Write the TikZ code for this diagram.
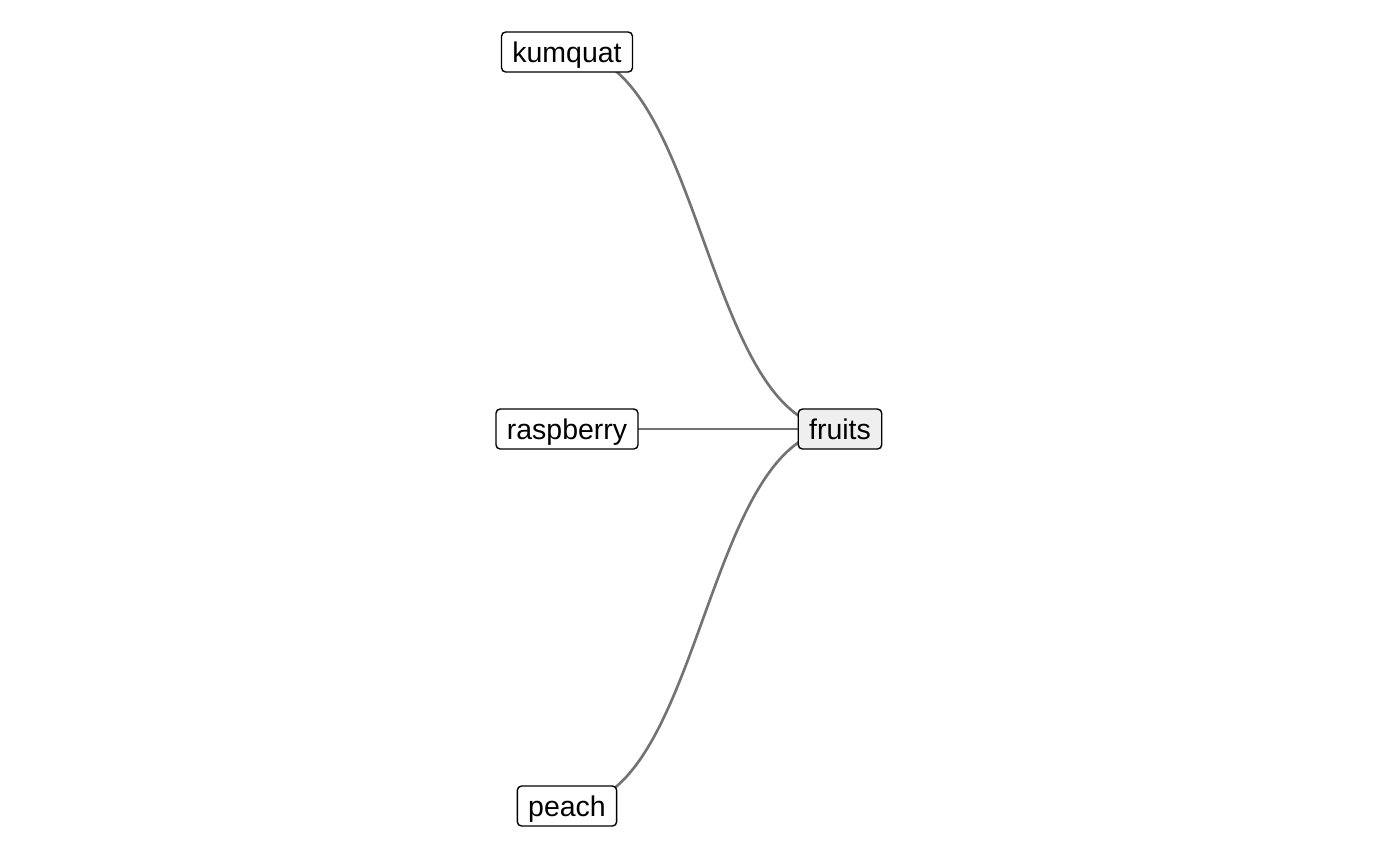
\documentclass[tikz,border=0pt]{standalone}
\usepackage{fontspec}
\setmainfont{Liberation Sans}
\usetikzlibrary{backgrounds}
\definecolor{edgegray}{HTML}{737373}
\definecolor{rootfill}{HTML}{EFEFEF}

\begin{document}
\begin{tikzpicture}[
  leaf/.style={draw, fill=white, rounded corners=1.2pt, line width=0.4pt, inner xsep=3.1pt, inner ysep=0pt,
    minimum height=0.4cm, text height=6.7pt, text depth=0.9pt, font=\fontsize{8.1}{9.5}\selectfont},
  root/.style={leaf, fill=rootfill},
  edge/.style={edgegray, line width=0.75pt}
]
  \useasboundingbox (0,0) rectangle (14,-8.65);

  % Leaves
  \node[leaf] (kumquat) at (5.67,-0.52) {kumquat};
  \node[leaf] (raspberry) at (5.67,-4.29) {raspberry};
  \node[leaf] (peach) at (5.67,-8.06) {peach};

  % Root
  \node[root] (fruits) at (8.40,-4.29) {fruits};

  % Edges
  \begin{pgfonlayer}{background}
    \draw[edge] (kumquat.center) to[out=0, in=180, out distance=1.365cm, in distance=1.365cm] (fruits.center);
    \draw[edge] (raspberry.center) -- (fruits.center);
    \draw[edge] (peach.center) to[out=0, in=180, out distance=1.365cm, in distance=1.365cm] (fruits.center);
  \end{pgfonlayer}
\end{tikzpicture}
\end{document}
